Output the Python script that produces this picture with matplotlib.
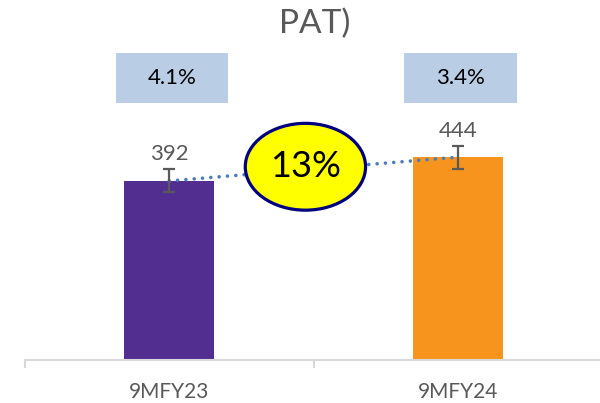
import matplotlib
matplotlib.use("Agg")
import matplotlib.pyplot as plt
from matplotlib.patches import Rectangle, Ellipse

plt.rcParams['font.family'] = ['Lato', 'DejaVu Sans']

categories = ["9MFY23", "9MFY24"]
values = [392, 444]
errors = [25, 25]
margins = ["4.1%", "3.4%"]
growth = "13%"
title = "PAT)"
bar_colors = ["#522E91", "#F7941D"]

W, H = 600, 403
fig = plt.figure(figsize=(W / 100, H / 100), dpi=100)
ax = fig.add_axes([25 / W, (H - 360) / H, 577 / W, 360 / H])
ax.set_xlim(-0.5, 1.5)
ax.set_ylim(0, 788)

x = list(range(len(categories)))
ax.bar(x, values, width=0.3125, color=bar_colors, zorder=2)
ax.errorbar(x, values, yerr=errors, fmt='none', ecolor='#595959',
            elinewidth=1.6, capsize=4, capthick=1.6, zorder=4)
ax.plot(x, values, linestyle=(0, (0.01, 2.3)), color='#4A7EBB', lw=2.6,
        dash_capstyle='round', zorder=3)

for xi, v in zip(x, values):
    ax.text(xi, v + 36, str(v), ha='center', va='bottom', fontsize=16,
            color='#595959', zorder=5)

for xi, m in zip(x, margins):
    ax.add_patch(Rectangle((xi + 0.01 - 0.195, 562), 0.39, 110,
                           facecolor='#B9CDE5', edgecolor='none', zorder=2))
    ax.text(xi + 0.01, 617, m, ha='center', va='center', fontsize=16,
            color='black', zorder=3)

ex, ey = 0.472, 423
ax.add_patch(Ellipse((ex, ey), 0.417, 190, facecolor='#FFFF00',
                     edgecolor='#000080', lw=2.3, zorder=6))
ax.text(ex, ey, growth, ha='center', va='center', fontsize=26,
        color='black', zorder=7)

for s in ['top', 'right', 'left']:
    ax.spines[s].set_visible(False)
ax.spines['bottom'].set_color('#D9D9D9')
ax.spines['bottom'].set_linewidth(1.5)
ax.set_yticks([])
ax.set_xticks(x)
ax.set_xticklabels(categories, fontsize=15, color='#595959')
ax.tick_params(axis='x', length=0, pad=16)
ax.set_xticks([-0.5, 0.5, 1.5], minor=True)
ax.tick_params(axis='x', which='minor', length=6, width=1.5, color='#D9D9D9')

fig.text(315 / W, 1 - 33 / H, title, ha='center', va='baseline',
         fontsize=24, color='#595959')

fig.savefig("out.png", dpi=100)
